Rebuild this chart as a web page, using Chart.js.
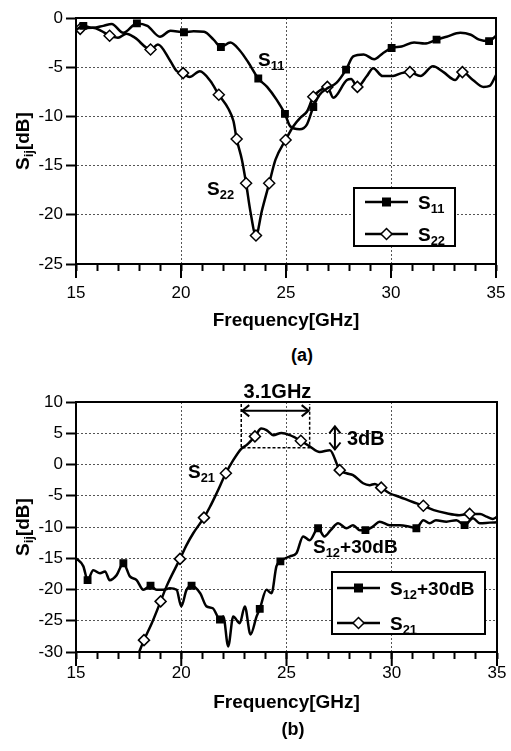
<!DOCTYPE html>
<html>
<head>
<meta charset="utf-8">
<script src="https://cdn.jsdelivr.net/npm/chart.js@4"></script>
<style>
body { margin: 0; background: #fff; width: 511px; height: 751px; overflow: hidden; }
.box { position: absolute; left: 0; width: 511px; }
.cap { position: absolute; width: 60px; text-align: center; font: bold 18px "Liberation Sans", Arial, sans-serif; color: #000; }
</style>
</head>
<body>
<div class="box" style="top:0;height:340px"><canvas id="chartA"></canvas></div>
<div class="cap" style="left:272px;top:345px">(a)</div>
<div class="box" style="top:360px;height:391px"><canvas id="chartB"></canvas></div>
<div class="cap" style="left:263px;top:719px">(b)</div>
<script>

// ---- data (a) ----
const s11Freq = [15, 15.35, 15.8, 16.3, 16.7, 17.25, 17.9, 18.4, 19.0, 19.5, 20.14, 20.6, 21.1, 21.55, 21.9, 22.35, 22.8, 23.2, 23.68, 24.1, 24.55, 24.95, 25.2, 25.65, 26.0, 26.3, 26.6, 27.0, 27.4, 27.86, 28.2, 28.7, 29.2, 29.6, 30.03, 30.5, 31.1, 31.6, 32.17, 32.65, 33.3, 33.8, 34.2, 34.67, 35];
const s11Vals = [-1.2, -0.8, -1.0, -0.8, -0.6, -1.5, -0.55, -0.8, -1.9, -1.3, -1.45, -1.35, -1.4, -2.2, -2.95, -2.5, -3.3, -4.5, -6.15, -7.0, -8.3, -9.75, -11.0, -11.3, -10.8, -9.05, -7.8, -7.1, -6.6, -5.25, -3.9, -3.7, -4.2, -3.6, -3.05, -2.9, -2.5, -2.6, -2.2, -1.9, -1.5, -1.7, -2.2, -2.35, -1.8];
const s11Marks = [15.35, 17.9, 20.14, 21.9, 23.68, 24.95, 26.3, 27.86, 30.03, 32.17, 34.67];

const s22Freq = [15, 15.2, 15.8, 16.2, 16.6, 17.0, 17.4, 17.8, 18.55, 18.9, 19.5, 19.8, 20.1, 20.4, 20.9, 21.4, 21.8, 22.25, 22.5, 22.65, 22.9, 23.1, 23.3, 23.57, 23.85, 24.2, 24.5, 24.98, 25.35, 25.7, 26.0, 26.3, 26.6, 26.97, 27.25, 27.9, 28.1, 28.4, 28.85, 29.15, 29.6, 30.1, 30.5, 30.9, 31.4, 32.0, 32.5, 33.05, 33.4, 33.9, 34.4, 34.7, 35];
const s22Vals = [-1.35, -1.1, -1.0, -1.3, -1.8, -2.0, -1.6, -2.0, -3.2, -2.7, -4.4, -5.4, -5.6, -6.0, -5.4, -6.4, -7.8, -9.2, -10.5, -12.3, -14.4, -16.8, -19.6, -22.1, -19.6, -16.8, -14.4, -12.4, -11.0, -10.1, -9.5, -8.0, -7.4, -7.0, -8.1, -6.3, -6.2, -7.0, -5.9, -5.1, -5.9, -5.9, -5.6, -5.5, -5.9, -4.9, -5.5, -6.3, -5.5, -6.3, -7.0, -6.9, -5.8];
const s22Marks = [15.2, 16.6, 18.55, 20.1, 21.8, 22.65, 23.1, 23.57, 24.2, 24.98, 26.3, 26.97, 28.4, 30.9, 33.4];

// ---- data (b) ----
const s21Freq = [18.0, 18.23, 18.6, 19.02, 19.3, 19.94, 20.25, 20.57, 21.08, 21.36, 21.68, 22.12, 22.47, 22.86, 23.1, 23.5, 23.8, 24.05, 24.37, 24.76, 25.16, 25.68, 26.1, 26.58, 27.06, 27.53, 27.85, 28.16, 28.64, 28.95, 29.2, 29.5, 29.9, 30.38, 31.0, 31.5, 32.0, 32.6, 33.2, 33.7, 34.2, 34.5, 34.8, 35];
const s21Vals = [-30, -28.1, -25.4, -21.9, -19.5, -15.1, -12.9, -11.0, -8.5, -6.8, -4.6, -1.4, 0.7, 2.55, 3.1, 4.5, 5.75, 5.5, 4.7, 5.05, 4.7, 3.8, 2.9, 2.0, 2.3, -0.9, -1.4, -1.7, -3.0, -3.3, -3.1, -3.7, -4.6, -5.2, -6.0, -6.6, -7.3, -7.8, -8.1, -7.9, -7.9, -8.35, -8.7, -8.4];
const s21Marks = [18.23, 19.02, 19.94, 21.08, 22.12, 23.5, 25.68, 27.53, 29.5, 31.5, 33.7];

const s12Freq = [15, 15.35, 15.55, 15.82, 16.14, 16.38, 16.6, 16.93, 17.25, 17.56, 17.88, 18.2, 18.54, 18.83, 19.15, 19.46, 19.78, 20.0, 20.25, 20.49, 20.9, 21.2, 21.5, 21.84, 22.0, 22.23, 22.47, 22.78, 23.02, 23.29, 23.58, 23.73, 24.05, 24.29, 24.52, 24.71, 25.16, 25.47, 25.79, 26.1, 26.5, 26.8, 27.1, 27.45, 27.85, 28.16, 28.48, 28.75, 29.1, 29.43, 29.9, 30.38, 30.85, 31.17, 31.5, 31.8, 32.1, 32.6, 33.07, 33.46, 33.86, 34.18, 34.65, 35];
const s12Vals = [-15, -16.3, -18.5, -16.9, -17.4, -17.1, -18.5, -17.7, -15.8, -17.9, -18.5, -20.05, -19.4, -20.05, -20.05, -19.8, -20.05, -22.7, -20.05, -19.4, -20.6, -22.7, -23.0, -24.8, -24.3, -29.1, -24.3, -25.4, -22.7, -27.2, -24.3, -23.1, -20.05, -20.6, -16.3, -15.5, -14.7, -14.2, -11.5, -12.1, -10.2, -11.5, -10.5, -9.4, -10.2, -9.7, -10.5, -10.5, -9.95, -9.15, -9.7, -9.7, -9.95, -10.2, -8.9, -9.4, -8.9, -9.15, -8.9, -9.7, -8.6, -9.4, -9.3, -9.25];
const s12Marks = [15.55, 17.25, 18.54, 20.49, 21.84, 23.73, 24.71, 26.5, 28.75, 31.17, 33.46];

const freqTicks = [15, 20, 25, 30, 35];
const bwEdges = [22.85, 26.1];   // 3.1GHz band edges
const bwLevel = 2.7;             // -3dB level

const FONT = '"Liberation Sans", Arial, sans-serif';

function pts(xs, ys) {
    return xs.map((x, i) => ({ x: x, y: ys[i] }));
}

function series(label, xs, ys, marks, filled) {
    return {
        label: label,
        data: pts(xs, ys),
        borderColor: "#000",
        borderWidth: 2.5,
        cubicInterpolationMode: "monotone",
        pointStyle: filled ? "rect" : "rectRot",
        pointRadius: ctx => marks.includes(ctx.raw.x) ? (filled ? 4.5 : 5.5) : 0,
        pointHoverRadius: 0,
        pointBackgroundColor: filled ? "#000" : "#fff",
        pointBorderColor: "#000",
        pointBorderWidth: 1.5
    };
}

// text with subscripts: parts = [[text, sub], ...]
function rich(ctx, parts, x, y, size, align) {
    ctx.save();
    ctx.fillStyle = "#000";
    ctx.textBaseline = "alphabetic";
    let w = 0;
    parts.forEach(p => {
        ctx.font = "bold " + (p[1] ? size * 0.68 : size) + "px " + FONT;
        w += ctx.measureText(p[0]).width;
    });
    let cx = align === "center" ? x - w / 2 : x;
    parts.forEach(p => {
        ctx.font = "bold " + (p[1] ? size * 0.68 : size) + "px " + FONT;
        ctx.textAlign = "left";
        ctx.fillText(p[0], cx, p[1] ? y + size * 0.22 : y);
        cx += ctx.measureText(p[0]).width;
    });
    ctx.restore();
}

function legendItem(ctx, x, y, filled, parts) {
    ctx.save();
    ctx.strokeStyle = "#000";
    ctx.lineWidth = 2.5;
    ctx.beginPath();
    ctx.moveTo(x, y);
    ctx.lineTo(x + 43, y);
    ctx.stroke();
    const mx = x + 21.5;
    ctx.lineWidth = 1.5;
    if (filled) {
        ctx.fillStyle = "#000";
        ctx.fillRect(mx - 4.5, y - 4.5, 9, 9);
    } else {
        ctx.fillStyle = "#fff";
        ctx.beginPath();
        ctx.moveTo(mx, y - 5.5);
        ctx.lineTo(mx + 5.5, y);
        ctx.lineTo(mx, y + 5.5);
        ctx.lineTo(mx - 5.5, y);
        ctx.closePath();
        ctx.fill();
        ctx.stroke();
    }
    ctx.restore();
    rich(ctx, parts, x + 53, y + 7, 19);
}

function arrowHead(ctx, x, y, dx, dy) {
    const s = 7;
    ctx.beginPath();
    ctx.moveTo(x + s * (dx - dy * 0.8), y + s * (dy + dx * 0.8));
    ctx.lineTo(x, y);
    ctx.lineTo(x + s * (dx + dy * 0.8), y + s * (dy - dx * 0.8));
    ctx.stroke();
}

// frame, long major ticks, y title
const framePlugin = {
    id: "frame",
    afterDraw(chart) {
        const ctx = chart.ctx;
        const a = chart.chartArea;
        const xs = chart.scales.x;
        ctx.save();
        ctx.strokeStyle = "#000";
        ctx.lineWidth = 2;
        ctx.strokeRect(a.left, a.top, a.right - a.left, a.bottom - a.top);
        freqTicks.forEach(v => {
            const px = xs.getPixelForValue(v);
            ctx.beginPath();
            ctx.moveTo(px, a.bottom);
            ctx.lineTo(px, a.bottom + 14);
            ctx.stroke();
        });
        ctx.translate(22, (a.top + a.bottom) / 2);
        ctx.rotate(-Math.PI / 2);
        rich(ctx, [["S", 0], ["ij", 1], ["[dB]", 0]], 0, 7, 19, "center");
        ctx.restore();
    }
};

const notesA = {
    id: "notesA",
    afterDraw(chart) {
        const ctx = chart.ctx;
        const x = chart.scales.x, y = chart.scales.y;
        rich(ctx, [["S", 0], ["11", 1]], x.getPixelForValue(23.67), y.getPixelForValue(-4.9), 19);
        rich(ctx, [["S", 0], ["22", 1]], x.getPixelForValue(21.24), y.getPixelForValue(-17.95), 19);
        const a = chart.chartArea;
        const bx = a.right - 142, by = a.bottom - 76, bw = 101, bh = 58;
        ctx.save();
        ctx.fillStyle = "#fff";
        ctx.fillRect(bx, by, bw, bh);
        ctx.strokeStyle = "#000";
        ctx.lineWidth = 2;
        ctx.strokeRect(bx, by, bw, bh);
        ctx.restore();
        legendItem(ctx, bx + 11, by + 14, true, [["S", 0], ["11", 1]]);
        legendItem(ctx, bx + 11, by + 46, false, [["S", 0], ["22", 1]]);
    }
};

const notesB = {
    id: "notesB",
    afterDraw(chart) {
        const ctx = chart.ctx;
        const x = chart.scales.x, y = chart.scales.y;
        const x1 = x.getPixelForValue(bwEdges[0]), x2 = x.getPixelForValue(bwEdges[1]);
        const yl = y.getPixelForValue(bwLevel), yt = y.getPixelForValue(9.7);
        const ya = y.getPixelForValue(8.6);
        ctx.save();
        ctx.strokeStyle = "#000";
        ctx.lineWidth = 1.5;
        ctx.setLineDash([3, 2]);
        ctx.beginPath();
        ctx.moveTo(x1, yt); ctx.lineTo(x1, yl); ctx.lineTo(x2, yl); ctx.lineTo(x2, yt);
        ctx.stroke();
        ctx.setLineDash([]);
        ctx.lineWidth = 2;
        ctx.beginPath();
        ctx.moveTo(x1 + 1, ya); ctx.lineTo(x2 - 1, ya);
        ctx.stroke();
        arrowHead(ctx, x1 + 1, ya, 1, 0);
        arrowHead(ctx, x2 - 1, ya, -1, 0);
        const vx = x.getPixelForValue(27.3);
        const v1 = y.getPixelForValue(6.1), v2 = y.getPixelForValue(2.4);
        ctx.beginPath();
        ctx.moveTo(vx, v1); ctx.lineTo(vx, v2);
        ctx.stroke();
        arrowHead(ctx, vx, v1, 0, 1);
        arrowHead(ctx, vx, v2, 0, -1);
        ctx.restore();
        rich(ctx, [["3.1GHz", 0]], x.getPixelForValue(24.57), y.getPixelForValue(10.7), 20, "center");
        rich(ctx, [["3dB", 0]], x.getPixelForValue(27.87), y.getPixelForValue(3.1), 20);
        rich(ctx, [["S", 0], ["21", 1]], x.getPixelForValue(20.32), y.getPixelForValue(-2.1), 19);
        rich(ctx, [["S", 0], ["12", 1], ["+30dB", 0]], x.getPixelForValue(26.26), y.getPixelForValue(-14.2), 19);
        const a = chart.chartArea;
        const bx = a.right - 165, by = a.bottom - 80, bw = 153, bh = 62;
        ctx.save();
        ctx.fillStyle = "#fff";
        ctx.fillRect(bx, by, bw, bh);
        ctx.strokeStyle = "#000";
        ctx.lineWidth = 2;
        ctx.strokeRect(bx, by, bw, bh);
        ctx.restore();
        legendItem(ctx, bx + 5, by + 16, true, [["S", 0], ["12", 1], ["+30dB", 0]]);
        legendItem(ctx, bx + 5, by + 51, false, [["S", 0], ["21", 1]]);
    }
};

function axes(yMin, yMax, xHeight, xPad, titlePad) {
    return {
        x: {
            type: "linear",
            min: 15,
            max: 35,
            afterFit: s => { s.height = xHeight; s.paddingLeft = 0; s.paddingRight = 0; },
            ticks: {
                stepSize: 1,
                autoSkip: false,
                maxRotation: 0,
                padding: xPad,
                color: "#000",
                font: { family: FONT, size: 17 },
                callback: v => v % 5 === 0 ? v : ""
            },
            grid: {
                color: c => c.tick && c.tick.value % 5 === 0 ? "#555" : "rgba(0,0,0,0)",
                tickColor: "#000",
                tickLength: 7,
                tickWidth: 2,
                lineWidth: 1
            },
            border: { color: "#000", width: 2, dash: [2, 2] },
            title: {
                display: true,
                text: "Frequency[GHz]",
                color: "#000",
                font: { family: FONT, size: 19, weight: "bold" },
                padding: { top: 0, bottom: titlePad }
            }
        },
        y: {
            min: yMin,
            max: yMax,
            afterFit: s => { s.width = 76; },
            ticks: {
                stepSize: 5,
                padding: 3,
                color: "#000",
                font: { family: FONT, size: 17 }
            },
            grid: {
                color: "#555",
                tickColor: "#000",
                tickLength: 10,
                tickWidth: 2,
                lineWidth: 1
            },
            border: { color: "#000", width: 2, dash: [2, 2] }
        }
    };
}

Chart.defaults.animation = false;
Chart.defaults.font.family = FONT;

new Chart(document.getElementById("chartA"), {
    type: "line",
    data: {
        datasets: [
            series("S11", s11Freq, s11Vals, s11Marks, true),
            series("S22", s22Freq, s22Vals, s22Marks, false)
        ]
    },
    options: {
        responsive: true,
        maintainAspectRatio: false,
        layout: { padding: { top: 18, right: 15, left: 0, bottom: 0 } },
        plugins: { legend: { display: false }, tooltip: { enabled: false } },
        scales: axes(-25, 0, 76, 12, 7.5)
    },
    plugins: [framePlugin, notesA]
});

new Chart(document.getElementById("chartB"), {
    type: "line",
    data: {
        datasets: [
            series("S12+30dB", s12Freq, s12Vals, s12Marks, true),
            series("S21", s21Freq, s21Vals, s21Marks, false)
        ]
    },
    options: {
        responsive: true,
        maintainAspectRatio: false,
        layout: { padding: { top: 42, right: 14, left: 0, bottom: 0 } },
        plugins: { legend: { display: false }, tooltip: { enabled: false } },
        scales: axes(-30, 10, 99, 4, 36.5)
    },
    plugins: [framePlugin, notesB]
});

</script>
</body>
</html>
